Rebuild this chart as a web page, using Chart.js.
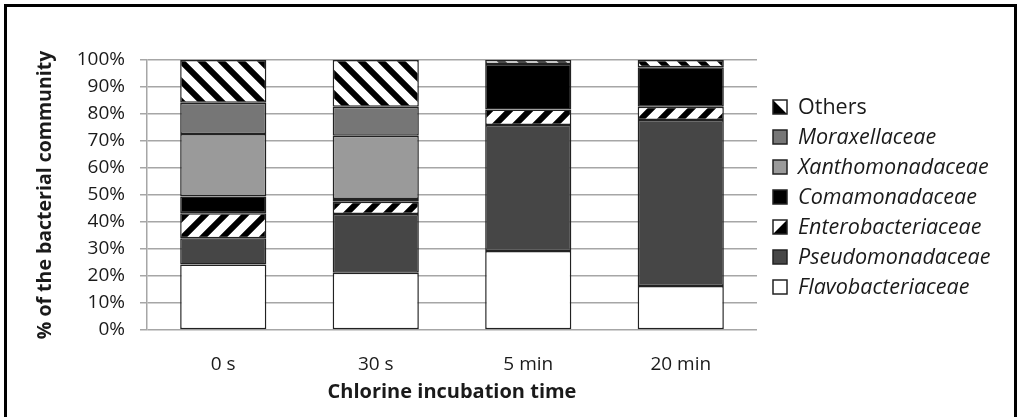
<!DOCTYPE html>
<html>
<head>
<meta charset="utf-8">
<script src="https://cdn.jsdelivr.net/npm/chart.js@4.4.1/dist/chart.umd.min.js"></script>
<style>
    html, body { margin: 0; padding: 0; background: #fff; overflow: hidden; }
    #wrap { position: relative; width: 1020px; height: 417px; }
    #frame { position: absolute; left: 4px; top: 4px; width: 1013px; height: 420px; border: 3px solid #000; box-sizing: border-box; pointer-events: none; }
</style>
</head>
<body>
<div id="wrap">
    <canvas id="chart" width="1020" height="417"></canvas>
    <div id="frame"></div>
</div>
<script>
// datos (% de la comunidad)
const categories = ['0 s', '30 s', '5 min', '20 min'];
const flavobacteriaceae = [24.3, 21.2, 29.3, 16.3];
const pseudomonadaceae = [9.7, 21.8, 46.6, 61.5];
const enterobacteriaceae = [9.2, 4.5, 5.8, 4.9];
const comamonadaceae = [6.2, 1.0, 16.8, 14.6];
const xanthomonadaceae = [23.2, 23.4, 0, 0];
const moraxellaceae = [11.6, 10.8, 0, 0];
const others = [15.8, 17.3, 1.5, 2.7];
const yTicks = [0, 10, 20, 30, 40, 50, 60, 70, 80, 90, 100];

const FONT = '"Open Sans"';

function stripes(dir) {
    const s = 20;
    const c = document.createElement('canvas');
    c.width = s; c.height = s;
    const g = c.getContext('2d');
    g.fillStyle = '#fff';
    g.fillRect(0, 0, s, s);
    g.strokeStyle = '#000';
    g.lineWidth = 6;
    g.beginPath();
    if (dir === 'back') {
        g.moveTo(-5, -5); g.lineTo(s + 5, s + 5);
        g.moveTo(-5, s - 5); g.lineTo(5, s + 5);
        g.moveTo(s - 5, -5); g.lineTo(s + 5, 5);
    } else {
        g.moveTo(-5, s + 5); g.lineTo(s + 5, -5);
        g.moveTo(-5, 5); g.lineTo(5, -5);
        g.moveTo(s - 5, s + 5); g.lineTo(s + 5, s - 5);
    }
    g.stroke();
    return g.createPattern(c, 'repeat');
}

const series = [
    { label: 'Flavobacteriaceae', data: flavobacteriaceae, bg: '#ffffff', italic: true },
    { label: 'Pseudomonadaceae', data: pseudomonadaceae, bg: '#464646', italic: true },
    { label: 'Enterobacteriaceae', data: enterobacteriaceae, bg: stripes('fwd'), hatch: 'fwd', italic: true },
    { label: 'Comamonadaceae', data: comamonadaceae, bg: '#000000', italic: true },
    { label: 'Xanthomonadaceae', data: xanthomonadaceae, bg: '#9a9a9a', italic: true },
    { label: 'Moraxellaceae', data: moraxellaceae, bg: '#767676', italic: true },
    { label: 'Others', data: others, bg: stripes('back'), hatch: 'back', italic: false }
];

// leyenda a la derecha, de arriba (Others) hacia abajo
const sideLegend = {
    id: 'sideLegend',
    afterDraw(chart) {
        const ctx = chart.ctx;
        const area = chart.chartArea;
        const n = series.length;
        const mid = (area.top + area.bottom) / 2 + 2;
        const step = 30;
        ctx.save();
        series.slice().reverse().forEach((s, k) => {
            const y = mid + (k - (n - 1) / 2) * step;
            const bx = area.right + 16, by = y - 7, bs = 14;
            ctx.fillStyle = s.hatch ? '#fff' : s.bg;
            ctx.fillRect(bx, by, bs, bs);
            if (s.hatch) {
                ctx.fillStyle = '#000';
                ctx.beginPath();
                if (s.hatch === 'back') {
                    ctx.moveTo(bx, by); ctx.lineTo(bx + bs, by + bs); ctx.lineTo(bx, by + bs);
                } else {
                    ctx.moveTo(bx + bs, by); ctx.lineTo(bx + bs, by + bs); ctx.lineTo(bx, by + bs);
                }
                ctx.closePath();
                ctx.fill();
            }
            ctx.strokeStyle = '#222';
            ctx.lineWidth = 1.5;
            ctx.strokeRect(bx, by, bs, bs);
            ctx.fillStyle = '#1a1a1a';
            ctx.font = (s.italic ? 'italic ' : '') + '21.5px ' + FONT;
            ctx.textAlign = 'left';
            ctx.textBaseline = 'middle';
            ctx.fillText(s.label, area.right + 41, y + 1);
        });
        ctx.restore();
    }
};

new Chart(document.getElementById('chart').getContext('2d'), {
    type: 'bar',
    data: {
        labels: categories,
        datasets: series.map(s => ({
            label: s.label,
            data: s.data,
            backgroundColor: s.bg,
            borderColor: '#222',
            borderWidth: 1.5,
            borderSkipped: false,
            categoryPercentage: 1,
            barPercentage: 0.565
        }))
    },
    options: {
        responsive: false,
        animation: false,
        layout: { padding: { top: 60, right: 263, left: 0, bottom: 0 } },
        plugins: {
            legend: { display: false },
            tooltip: { enabled: false }
        },
        scales: {
            x: {
                stacked: true,
                afterFit: (scale) => { scale.height = 87; },
                grid: { display: true, drawOnChartArea: false, drawTicks: false, color: '#a6a6a6', lineWidth: 1.5 },
                border: { display: false },
                ticks: { color: '#1a1a1a', font: { family: FONT, size: 19 }, padding: 23 },
                title: {
                    display: true,
                    text: 'Chlorine incubation time',
                    color: '#1a1a1a',
                    font: { family: FONT, size: 20, weight: 'bold' },
                    padding: { top: 0, bottom: 13 }
                }
            },
            y: {
                stacked: true,
                min: 0,
                max: 100,
                afterFit: (scale) => { scale.width = 147; },
                afterBuildTicks: (scale) => { scale.ticks = yTicks.map(v => ({ value: v })); },
                grid: { color: '#a6a6a6', lineWidth: 1.5, tickLength: 7 },
                border: { color: '#a6a6a6', width: 1.5 },
                ticks: {
                    color: '#1a1a1a',
                    font: { family: FONT, size: 19 },
                    padding: 15,
                    callback: (v) => v + '%'
                },
                title: {
                    display: true,
                    text: '% of the bacterial community',
                    color: '#1a1a1a',
                    font: { family: FONT, size: 19.5, weight: 'bold' },
                    padding: { top: 34, bottom: 0 }
                }
            }
        }
    },
    plugins: [sideLegend]
});
</script>
</body>
</html>
